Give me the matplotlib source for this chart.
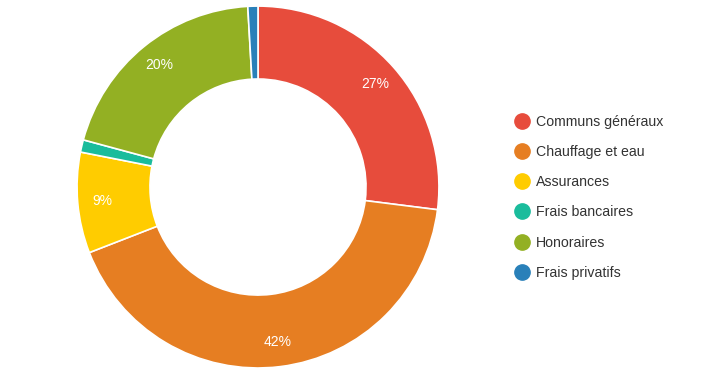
import matplotlib.pyplot as plt
from matplotlib.lines import Line2D

plt.rcParams['font.family'] = ['Liberation Sans', 'DejaVu Sans']

labels = ['Communs généraux', 'Chauffage et eau', 'Assurances',
          'Frais bancaires', 'Honoraires', 'Frais privatifs']
values = [27.0, 42.1, 9.0, 1.1, 19.9, 0.9]
colors = ['#e74c3c', '#e67e22', '#ffcc00', '#1abc9c', '#93b023', '#2980b9']


def pct_label(p):
    return f'{p:.0f}%' if p >= 5 else ''


fig = plt.figure(figsize=(7.03, 3.85), dpi=100)
ax = fig.add_axes([0.1095, 0.0442, 0.515, 0.940])
wedges, texts, autotexts = ax.pie(
    values, colors=colors, startangle=90, counterclock=False,
    autopct=pct_label, pctdistance=0.865, radius=1.0,
    wedgeprops=dict(width=0.403, edgecolor='white', linewidth=1.2),
    textprops=dict(color='white', fontsize=10))
ax.set_xlim(-1, 1)
ax.set_ylim(-1, 1)
ax.set_aspect('equal')
ax.axis('off')

handles = [Line2D([], [], marker='o', linestyle='none', markersize=11,
                  markerfacecolor=c, markeredgecolor=c) for c in colors]
leg = fig.legend(handles, labels, loc='upper left',
                 bbox_to_anchor=(0.725, 0.716), frameon=False,
                 fontsize=10.2, labelspacing=1.14, handlelength=1.0,
                 handletextpad=0.45, borderaxespad=0)
for t in leg.get_texts():
    t.set_color('#333333')

fig.savefig('out.png', dpi=100)
